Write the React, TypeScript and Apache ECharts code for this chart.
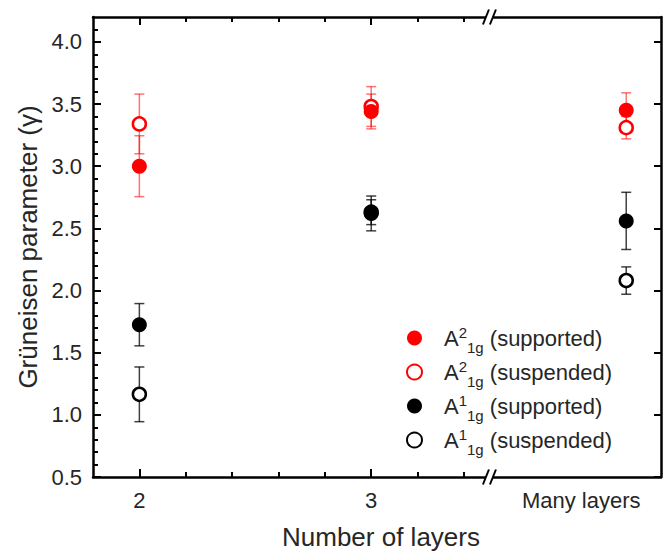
import React, { useEffect, useRef } from 'react';
import * as echarts from 'echarts';

// ---- data ----
const layerLabels = ['2', '3', 'Many layers'];
const layerX = [2, 3, 4.1];

const seriesNames = ['A2_1g (supported)', 'A2_1g (suspended)', 'A1_1g (supported)', 'A1_1g (suspended)'];
const legendSup = ['2', '2', '1', '1'];
const legendSub = ['1g', '1g', '1g', '1g'];
const legendTail = ['(supported)', '(suspended)', '(supported)', '(suspended)'];

const a2SupportedY = [3.0, 3.44, 3.45];
const a2SupportedErr = [0.245, 0.14, 0.14];
const a2SuspendedY = [3.34, 3.48, 3.31];
const a2SuspendedErr = [0.24, 0.16, 0.09];
const a1SupportedY = [1.725, 2.62, 2.56];
const a1SupportedErr = [0.17, 0.14, 0.23];
const a1SuspendedY = [1.165, 2.63, 2.08];
const a1SuspendedErr = [0.22, 0.1, 0.11];

const yMajorTicks = [0.5, 1.0, 1.5, 2.0, 2.5, 3.0, 3.5, 4.0];
const yMinorTicks = [
  0.6, 0.7, 0.8, 0.9, 1.1, 1.2, 1.3, 1.4, 1.6, 1.7, 1.8, 1.9, 2.1, 2.2, 2.3, 2.4,
  2.6, 2.7, 2.8, 2.9, 3.1, 3.2, 3.3, 3.4, 3.6, 3.7, 3.8, 3.9, 4.1,
];
const xMajorTicks = [2, 3];
const xMinorTicks = [2.2, 2.4, 2.6, 2.8, 3.2, 3.4];
const xBreakAt = [3.51];

const X_MIN = 1.8;
const X_MAX = 4.25;
const Y_MIN = 0.5;
const Y_MAX = 4.2;

const FONT = 'Liberation Sans, Arial, sans-serif';
const TEXT = '#262626';
const RED = '#ff0000';
const BLACK = '#000000';

function errorSeries(name: string, ys: number[], errs: number[], color: string) {
  return {
    type: 'custom',
    name,
    xAxisIndex: 0,
    yAxisIndex: 0,
    z: 1,
    silent: true,
    clip: false,
    encode: { x: 0, y: 1 },
    data: layerX.map((x, i) => [x, ys[i], errs[i]]),
    renderItem: (params: any, api: any) => {
      const x = api.value(0);
      const y = api.value(1);
      const e = api.value(2);
      const top = api.coord([x, y + e]);
      const bot = api.coord([x, y - e]);
      const hw = 5;
      const style = { stroke: color, lineWidth: 1.5 };
      return {
        type: 'group',
        children: [
          { type: 'line', shape: { x1: top[0], y1: top[1], x2: bot[0], y2: bot[1] }, style },
          { type: 'line', shape: { x1: top[0] - hw, y1: top[1], x2: top[0] + hw, y2: top[1] }, style },
          { type: 'line', shape: { x1: bot[0] - hw, y1: bot[1], x2: bot[0] + hw, y2: bot[1] }, style },
        ],
      };
    },
  };
}

function scatterSeries(name: string, ys: number[], color: string, open: boolean) {
  return {
    type: 'scatter',
    name,
    xAxisIndex: 0,
    yAxisIndex: 0,
    z: open ? 2 : 3,
    symbol: 'circle',
    symbolSize: open ? 13 : 15,
    itemStyle: open
      ? { color: '#ffffff', borderColor: color, borderWidth: 2.5, opacity: 1 }
      : { color, opacity: 1 },
    data: layerX.map((x, i) => [x, ys[i]]),
  };
}

const axisLineStyle = { color: BLACK, width: 2.5 };
const tickLineStyle = { color: BLACK, width: 2 };

export default function App() {
  const ref = useRef<HTMLDivElement>(null);

  useEffect(() => {
    if (!ref.current) return;
    document.body.style.margin = '0';
    const chart = echarts.init(ref.current, undefined, { renderer: 'svg' });

    const baseX = {
      type: 'value',
      min: X_MIN,
      max: X_MAX,
      splitLine: { show: false },
      axisLine: { show: false, onZero: false },
      axisLabel: { show: false },
    };
    const baseY = {
      type: 'value',
      min: Y_MIN,
      max: Y_MAX,
      splitLine: { show: false },
      axisLine: { show: false, onZero: false },
      axisLabel: { show: false },
    };

    const option: any = {
      animation: false,
      backgroundColor: '#ffffff',
      grid: { left: 93, right: 3, top: 17, bottom: 75, containLabel: false, outerBoundsMode: 'none' },
      xAxis: [
        {
          ...baseX,
          position: 'bottom',
          axisLine: { show: true, onZero: false, lineStyle: axisLineStyle },
          axisTick: { show: true, inside: true, length: 8, lineStyle: tickLineStyle, customValues: xMajorTicks },
          axisLabel: {
            show: true,
            customValues: layerX,
            margin: 12,
            fontSize: 22,
            fontFamily: FONT,
            color: TEXT,
            formatter: (v: number) => {
              const i = layerX.findIndex((x) => Math.abs(x - v) < 1e-6);
              if (i < 0) return '';
              return i === layerX.length - 1 ? `{many|${layerLabels[i]}}` : layerLabels[i];
            },
            rich: {
              many: { fontSize: 22, fontFamily: FONT, color: TEXT, padding: [0, 90, 0, 0] },
            },
          },
          name: 'Number of layers',
          nameLocation: 'middle',
          nameGap: 47,
          nameTextStyle: { fontSize: 26, fontFamily: FONT, color: TEXT, padding: [0, 0, 0, 8] },
        },
        {
          ...baseX,
          position: 'bottom',
          axisTick: { show: true, inside: true, length: 5, lineStyle: tickLineStyle, customValues: xMinorTicks },
        },
        {
          ...baseX,
          position: 'top',
          axisLine: { show: true, onZero: false, lineStyle: axisLineStyle },
          axisTick: { show: true, inside: true, length: 8, lineStyle: tickLineStyle, customValues: xMajorTicks },
        },
        {
          ...baseX,
          position: 'top',
          axisTick: { show: true, inside: true, length: 5, lineStyle: tickLineStyle, customValues: xMinorTicks },
        },
      ],
      yAxis: [
        {
          ...baseY,
          position: 'left',
          axisLine: { show: true, onZero: false, lineStyle: axisLineStyle },
          axisTick: { show: true, inside: true, length: 8, lineStyle: tickLineStyle, customValues: yMajorTicks },
          axisLabel: {
            show: true,
            customValues: yMajorTicks,
            margin: 11,
            fontSize: 22,
            fontFamily: FONT,
            color: TEXT,
            formatter: (v: number) => v.toFixed(1),
          },
          name: 'Grüneisen parameter (γ)',
          nameLocation: 'middle',
          nameGap: 50,
          nameTextStyle: { fontSize: 26, fontFamily: FONT, color: TEXT },
        },
        {
          ...baseY,
          position: 'left',
          axisTick: { show: true, inside: true, length: 5, lineStyle: tickLineStyle, customValues: yMinorTicks },
        },
        {
          ...baseY,
          position: 'right',
          axisLine: { show: true, onZero: false, lineStyle: axisLineStyle },
          axisTick: { show: true, inside: true, length: 7, lineStyle: tickLineStyle, customValues: yMajorTicks },
        },
      ],
      legend: {
        show: true,
        data: seriesNames,
        orient: 'vertical',
        left: 401,
        top: 316,
        itemWidth: 15,
        itemHeight: 15,
        itemGap: 0,
        selectedMode: false,
        formatter: (name: string) => {
          const i = seriesNames.indexOf(name);
          return `A{sup|${legendSup[i]}}{sub|${legendSub[i]}} ${legendTail[i]}`;
        },
        textStyle: {
          fontSize: 22,
          fontFamily: FONT,
          color: TEXT,
          lineHeight: 34,
          padding: [0, 0, 0, 17],
          rich: {
            sup: { fontSize: 15, fontFamily: FONT, color: TEXT, verticalAlign: 'top', padding: [4, 0, 0, 0] },
            sub: { fontSize: 15, fontFamily: FONT, color: TEXT, verticalAlign: 'bottom' },
          },
        },
      },
      series: [
        errorSeries('err-a2s', a2SupportedY, a2SupportedErr, 'rgba(255,0,0,0.55)'),
        errorSeries('err-a2u', a2SuspendedY, a2SuspendedErr, 'rgba(255,0,0,0.55)'),
        errorSeries('err-a1s', a1SupportedY, a1SupportedErr, 'rgba(0,0,0,0.75)'),
        errorSeries('err-a1u', a1SuspendedY, a1SuspendedErr, 'rgba(0,0,0,0.75)'),
        scatterSeries(seriesNames[0], a2SupportedY, RED, false),
        scatterSeries(seriesNames[1], a2SuspendedY, RED, true),
        scatterSeries(seriesNames[2], a1SupportedY, BLACK, false),
        scatterSeries(seriesNames[3], a1SuspendedY, BLACK, true),
        {
          type: 'custom',
          name: 'axis-break',
          xAxisIndex: 0,
          yAxisIndex: 0,
          z: 10,
          silent: true,
          clip: false,
          encode: { x: 0, y: 1 },
          data: xBreakAt.map((x) => [x, Y_MIN]),
          renderItem: (params: any, api: any) => {
            const x = api.value(0);
            const b = api.coord([x, Y_MIN]);
            const t = api.coord([x, Y_MAX]);
            const mk = (cx: number, cy: number) => [
              { type: 'rect', shape: { x: cx - 3.5, y: cy - 3, width: 7, height: 6 }, style: { fill: '#ffffff' } },
              { type: 'line', shape: { x1: cx - 6.5, y1: cy + 7.5, x2: cx - 0.5, y2: cy - 7.5 }, style: { stroke: BLACK, lineWidth: 2 } },
              { type: 'line', shape: { x1: cx + 0.5, y1: cy + 7.5, x2: cx + 6.5, y2: cy - 7.5 }, style: { stroke: BLACK, lineWidth: 2 } },
            ];
            return { type: 'group', children: [...mk(b[0], b[1]), ...mk(t[0], t[1])] };
          },
        },
      ],
    };

    chart.setOption(option);
    return () => chart.dispose();
  }, []);

  return <div ref={ref} style={{ width: 664, height: 552 }} />;
}
